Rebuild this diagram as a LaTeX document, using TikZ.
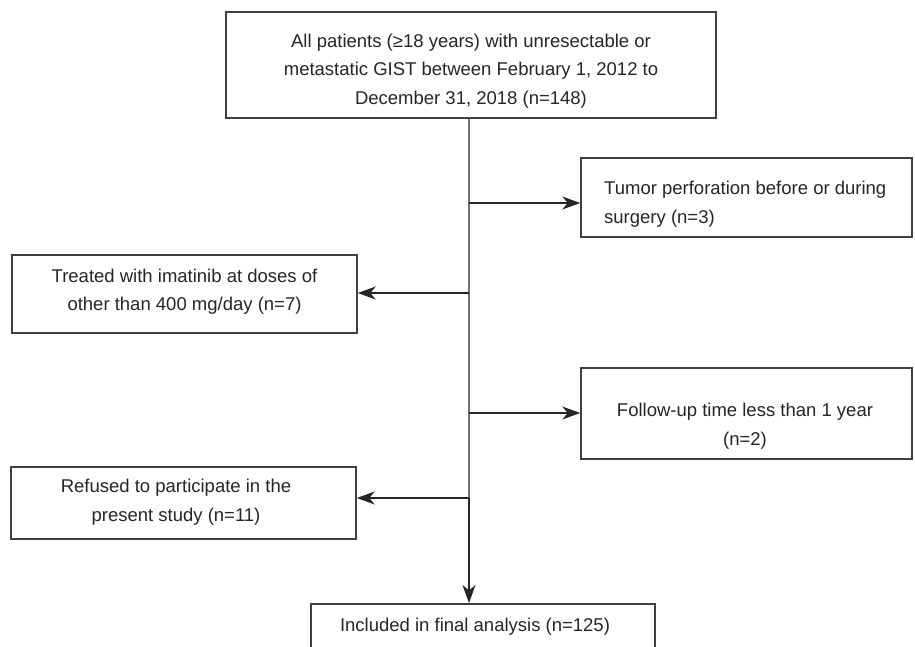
\documentclass[tikz,border=0pt]{standalone}
\usepackage{fontspec}
\setmainfont{Liberation Sans}
\usetikzlibrary{arrows.meta}
\begin{document}
\begin{tikzpicture}[x=1pt,y=-1pt,
  box/.style={draw=black!75,line width=1.5pt,inner sep=0pt},
  txt/.style={inner sep=0pt,align=center,font=\fontsize{18.5}{28.5}\selectfont,text=black!85},
  trunk/.style={draw=black!55,line width=2.4pt},
  arr/.style={draw=black!85,line width=1.3pt,-{Stealth[length=18pt,width=13pt,inset=5.5pt]}}]
\useasboundingbox (0,0) rectangle (915,647);
\fill[white] (0,0) rectangle (915,647);
\begin{scope}
\clip (0,0) rectangle (915,647);
% boxes
\node[box,minimum width=490pt,minimum height=106pt] (top) at (471,65) {};
\node[box,minimum width=331pt,minimum height=79pt] (tumor) at (746.5,197.5) {};
\node[box,minimum width=345pt,minimum height=78pt] (imat) at (184.5,294) {};
\node[box,minimum width=331pt,minimum height=91pt] (follow) at (746.5,413.5) {};
\node[box,minimum width=345pt,minimum height=72pt] (refused) at (183.5,503) {};
\node[box,anchor=north,minimum width=344pt,minimum height=80pt] (final) at (483,603) {};
% texts
\node[txt] (toptxt) at (471,71)
  {All patients (≥18 years) with unresectable or\\metastatic GIST between February 1, 2012 to\\December 31, 2018 (n=148)};
\node[txt,align=left,anchor=west] (tumortxt) at (604,204)
  {Tumor perforation before or during\\surgery (n=3)};
\node[txt] (imattxt) at (184.5,291.5)
  {Treated with imatinib at doses of\\other than 400 mg/day (n=7)};
\node[txt] (followtxt) at (745,426)
  {Follow-up time less than 1 year\\(n=2)};
\node[txt] (refusedtxt) at (176,502)
  {Refused to participate in the\\present study (n=11)};
\node[txt] (finaltxt) at (475,627)
  {Included in final analysis (n=125)};
% connectors
\coordinate (b1) at (469,203);
\coordinate (b2) at (469,293);
\coordinate (b3) at (469,413);
\coordinate (b4) at (469,498);
\draw[trunk] (top.south -| b4) -- (b4);
\draw[arr] (b4) -- (b4 |- final.north);
\draw[arr] (b1) -- (b1 -| tumor.west);
\draw[arr] (b2) -- (b2 -| imat.east);
\draw[arr] (b3) -- (b3 -| follow.west);
\draw[arr] (b4) -- (b4 -| refused.east);
\end{scope}
\end{tikzpicture}
\end{document}
